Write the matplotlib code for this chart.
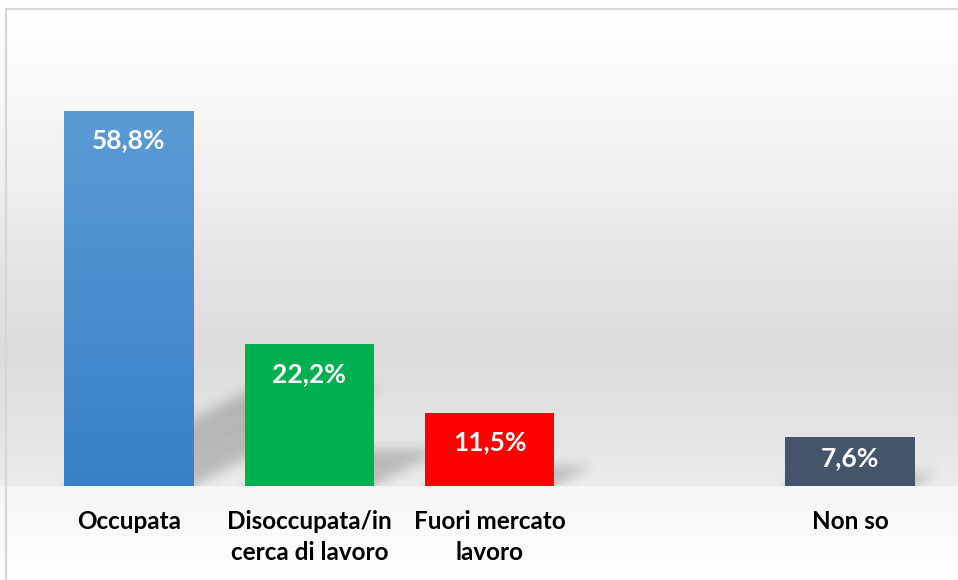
import numpy as np
import matplotlib
matplotlib.use("Agg")
import matplotlib.pyplot as plt
from matplotlib.lines import Line2D

plt.rcParams['font.family'] = ['Lato', 'DejaVu Sans']

# data
categories = ["Occupata", "Disoccupata/in\ncerca di lavoro", "Fuori mercato\nlavoro", "", "Non so"]
values = [58.8, 22.2, 11.5, np.nan, 7.6]
labels = ["58,8%", "22,2%", "11,5%", "", "7,6%"]
colors = ["#4a8ed0", "#00b050", "#ff0000", "#ffffff", "#44546a"]

W, H = 958, 580
fig = plt.figure(figsize=(W / 100, H / 100), dpi=100)

# chart background gradient (pixel rows from top, grey level)
stops_y = [0, 10, 60, 110, 200, 300, 350, 400, 460, 485.5, 486.5, 530, 580]
stops_g = [255, 254, 250, 246, 236, 224, 219, 224, 231, 235, 245, 249, 254]
rows = np.interp(np.arange(H) + 0.5, stops_y, stops_g)
bg_img = np.repeat(rows[:, None], 2, axis=1)
bg = fig.add_axes([0, 0, 1, 1], zorder=0)
bg.imshow(bg_img, cmap="gray", vmin=0, vmax=255, aspect="auto",
          extent=[0, 1, 0, 1], interpolation="nearest")
bg.axis("off")

# chart border (only top and left visible)
fig.add_artist(Line2D([6 / W, 1], [1 - 9 / H, 1 - 9 / H], color="#d6d6d6", lw=1.6))
fig.add_artist(Line2D([6 / W, 6 / W], [0, 1 - 9 / H], color="#d6d6d6", lw=1.6))

ax = fig.add_axes([39 / W, (H - 486) / H, 901 / W, 447 / H], zorder=1)
ax.set_facecolor("none")
ymax = 70
x = np.arange(len(categories))
bw = 0.717

# perspective shadows, blurred
nx, ny = 901, 447
gx = np.linspace(-0.5, 4.5, nx)
gy = np.linspace(0, ymax, ny)
GX, GY = np.meshgrid(gx, gy)
mask = np.zeros((ny, nx))
for xi, v in zip(x, values):
    if np.isnan(v):
        continue
    sh = 0.26 * v
    shift = 0.0177 * v
    t = GY / sh
    inside = (GY <= sh) & (GX >= xi - bw / 2 + t * shift) & (GX <= xi + bw / 2 + t * shift)
    mask[inside] = 1.0
sig = 6.0
k = np.arange(-18, 19)
kern = np.exp(-k ** 2 / (2 * sig ** 2))
kern /= kern.sum()
pad = np.pad(mask, 18, mode="edge")
pad = np.apply_along_axis(lambda r: np.convolve(r, kern, mode="same"), 1, pad)
pad = np.apply_along_axis(lambda c: np.convolve(c, kern, mode="same"), 0, pad)
blur = pad[18:-18, 18:-18]
shadow = np.zeros((ny, nx, 4))
shadow[..., 3] = blur * 0.2
ax.imshow(shadow, origin="lower", extent=(-0.5, 4.5, 0, ymax), aspect="auto",
          zorder=1, interpolation="bilinear")

vals = np.nan_to_num(values)
bars = ax.bar(x, vals, width=bw, color=colors, zorder=2, linewidth=0)

# vertical gradient on the first bar
b0 = bars[0]
grad = np.linspace(0, 1, 256)[:, None]
c_top = np.array([0x5b, 0x9b, 0xd5]) / 255
c_bot = np.array([0x37, 0x80, 0xc8]) / 255
gimg = c_bot + (c_top - c_bot) * grad[..., None] * np.ones((1, 2, 1))
im = ax.imshow(gimg, origin="lower", aspect="auto", zorder=3,
               extent=(b0.get_x(), b0.get_x() + b0.get_width(), 0, b0.get_height()))
im.set_clip_path(b0)

for xi, v, lab in zip(x, values, labels):
    if np.isnan(v):
        continue
    ax.text(xi, v - min(4.7, v * 0.43), lab, ha="center", va="center",
            color="white", fontsize=19, fontweight="bold", zorder=4)

ax.set_xlim(-0.5, 4.5)
ax.set_ylim(0, ymax)
ax.set_xticks(x)
ax.set_xticklabels(categories, fontsize=17.5, fontweight="bold", color="black",
                   linespacing=1.45)
ax.tick_params(axis="x", length=0, pad=17)
ax.set_yticks([])
for s in ax.spines.values():
    s.set_visible(False)

fig.savefig("out.png", dpi=100)
